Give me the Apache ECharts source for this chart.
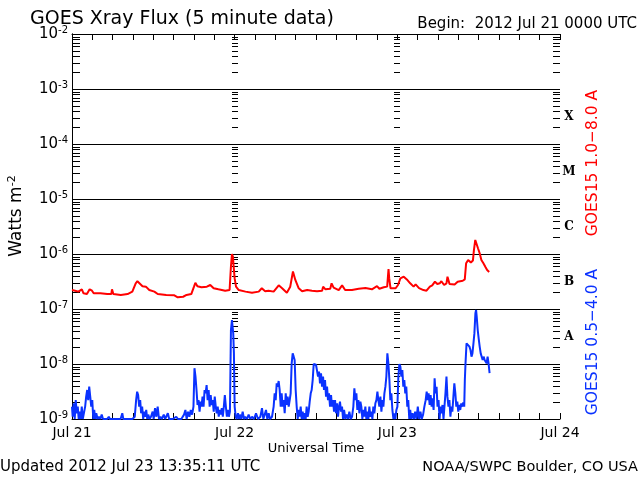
<!DOCTYPE html>
<html><head><meta charset="utf-8">
<script src="https://cdn.jsdelivr.net/npm/echarts@6/dist/echarts.min.js"></script>
<style>html,body{margin:0;padding:0;background:#fff}#c{width:640px;height:480px}</style>
</head><body><div id="c"></div>
<script>
// ---- data (hours since 2012 Jul 21 00:00 UTC, flux W m^-2) ----
const dayLabels = ['Jul 21', 'Jul 22', 'Jul 23', 'Jul 24'];
const redPoints = [
[0.0,2.21e-7],[0.45,2.15e-7],[0.7,2.28e-7],[0.95,2.07e-7],[1.2,1.98e-7],[1.45,2.28e-7],[1.7,1.93e-7],[2.2,1.87e-7],
[2.6,2.28e-7],[2.95,2.15e-7],[3.2,1.93e-7],[4.2,1.93e-7],[5.2,1.87e-7],[5.4,1.80e-7],[5.8,1.87e-7],[5.9,2.28e-7],
[6.1,1.87e-7],[7.2,1.80e-7],[8.2,1.87e-7],[8.9,2.07e-7],[9.4,2.93e-7],[9.65,3.2e-7],[9.9,3.14e-7],[10.4,2.6e-7],
[10.9,2.55e-7],[11.4,2.21e-7],[12.15,2.07e-7],[12.65,1.87e-7],[13.9,1.8e-7],[15.1,1.77e-7],[15.6,1.63e-7],[16.4,1.67e-7],
[16.9,1.8e-7],[17.6,1.87e-7],[18.0,2.55e-7],[18.2,3.0e-7],[18.5,2.6e-7],[19.1,2.48e-7],[19.9,2.55e-7],[20.4,2.73e-7],
[20.9,2.38e-7],[21.6,2.28e-7],[22.6,2.15e-7],[23.25,2.21e-7],[23.45,5.9e-7],[23.6,1.0e-6],[23.75,8.9e-7],[23.85,5.9e-7],
[24.0,3.6e-7],[24.2,2.55e-7],[24.6,2.21e-7],[25.6,2.07e-7],[26.55,1.98e-7],[27.55,2.07e-7],[28.0,2.38e-7],[28.5,2.1e-7],
[29.0,2.15e-7],[29.75,2.07e-7],[30.5,2.69e-7],[31.0,2.38e-7],[31.7,1.98e-7],[32.2,2.55e-7],[32.6,4.8e-7],[32.65,4.45e-7],
[32.95,3.37e-7],[33.45,2.38e-7],[33.95,2.1e-7],[34.7,2.21e-7],[35.4,2.15e-7],[36.15,2.1e-7],[36.9,2.15e-7],[37.05,2.55e-7],
[37.4,2.28e-7],[38.1,2.33e-7],[38.3,2.93e-7],[38.6,2.45e-7],[39.35,2.21e-7],[39.85,2.69e-7],[40.3,2.21e-7],[41.3,2.21e-7],
[42.3,2.33e-7],[43.3,2.4e-7],[44.25,2.28e-7],[45.0,2.6e-7],[45.35,2.33e-7],[46.0,2.48e-7],[46.5,2.55e-7],[46.7,5.3e-7],
[46.8,3.6e-7],[47.0,2.38e-7],[47.75,2.38e-7],[48.1,2.73e-7],[48.45,3.6e-7],[48.95,3.87e-7],[49.4,3.45e-7],[49.9,2.93e-7],
[50.4,2.55e-7],[50.7,2.8e-7],[51.2,2.4e-7],[51.85,2.21e-7],[52.3,2.15e-7],[52.8,2.55e-7],[53.15,2.69e-7],[53.55,3.14e-7],
[53.9,2.85e-7],[54.25,2.93e-7],[54.5,3.2e-7],[54.9,2.73e-7],[55.25,2.93e-7],[55.4,3.87e-7],[55.7,2.85e-7],[56.45,2.8e-7],
[56.9,3.14e-7],[57.65,3.26e-7],[57.95,3.45e-7],[58.15,6.8e-7],[58.45,7.8e-7],[58.85,7.0e-7],[59.15,7.6e-7],[59.3,1.18e-6],
[59.5,1.8e-6],[59.7,1.68e-6],[59.9,1.27e-6],[60.15,1.03e-6],[60.4,7.8e-7],[60.7,6.8e-7],[61.0,5.8e-7],[61.25,5.1e-7],
[61.55,4.7e-7]
];
const bluePoints = [
[0.0,1.68e-9],[0.10,1.1e-9],[0.25,1.93e-9],[0.40,1e-9],[0.55,2.2e-9],[0.70,1.27e-9],[0.85,1.68e-9],[0.99,1e-9],
[1.14,1.36e-9],[1.29,1e-9],[1.44,1.68e-9],[1.59,1e-9],[1.79,1e-9],[1.94,1.68e-9],[2.09,2.55e-9],[2.24,3.37e-9],
[2.39,2.2e-9],[2.54,3.87e-9],[2.69,3.95e-9],[2.84,1.68e-9],[2.99,2.2e-9],[3.14,1e-9],[3.28,1.46e-9],[3.43,1e-9],
[3.58,1.27e-9],[3.78,1e-9],[3.98,1.1e-9],[4.18,1e-9],[4.38,1.2e-9],[4.58,1e-9],[5.18,1e-9],[5.43,1.1e-9],
[5.58,1e-9],[6.17,1e-9],[6.67,1e-9],[7.17,1e-9],[7.42,1.27e-9],[7.57,1e-9],[8.16,1e-9],[8.91,1e-9],
[9.26,1.1e-9],[9.46,2.2e-9],[9.61,3.14e-9],[9.76,2.73e-9],[9.91,1.68e-9],[10.06,2.2e-9],[10.20,1.27e-9],[10.35,1.68e-9],
[10.50,1e-9],[10.65,1.36e-9],[10.80,1.1e-9],[10.95,1.46e-9],[11.10,1e-9],[11.25,1.2e-9],[11.45,1e-9],[11.65,1.1e-9],
[11.90,1.36e-9],[12.05,1e-9],[12.25,1.57e-9],[12.45,1.1e-9],[12.64,1.68e-9],[12.84,1e-9],[13.04,1.1e-9],[13.24,1e-9],
[13.54,1.2e-9],[13.74,1e-9],[14.14,1.27e-9],[14.34,1e-9],[14.88,1e-9],[15.38,1.1e-9],[15.63,1e-9],[16.13,1e-9],
[16.53,1.2e-9],[16.73,1.46e-9],[16.92,1e-9],[17.12,1.36e-9],[17.32,1.1e-9],[17.52,1.46e-9],[17.72,1.2e-9],[17.92,1.68e-9],
[18.07,8.4e-9],[18.22,5.9e-9],[18.37,3.37e-9],[18.52,1.8e-9],[18.67,2.2e-9],[18.82,1.36e-9],[18.97,2.07e-9],[19.11,1.68e-9],
[19.26,2.55e-9],[19.41,1.68e-9],[19.56,3.37e-9],[19.71,2.93e-9],[19.86,4.15e-9],[20.01,2.2e-9],[20.16,3.37e-9],[20.31,1.68e-9],
[20.46,2.73e-9],[20.61,1.8e-9],[20.76,2.2e-9],[20.91,1.36e-9],[21.06,2.55e-9],[21.21,1.68e-9],[21.35,1.27e-9],[21.50,1.68e-9],
[21.65,1.1e-9],[21.80,1.46e-9],[21.95,1.2e-9],[22.10,1.57e-9],[22.25,1.1e-9],[22.40,1.68e-9],[22.55,2.73e-9],[22.70,1.68e-9],
[22.85,1.1e-9],[23.00,1.46e-9],[23.15,1.1e-9],[23.30,1.36e-9],[23.45,4.15e-8],[23.60,6.3e-8],[23.70,6.8e-8],[23.79,3.6e-8],
[23.89,1.56e-8],[24.0,1.68e-9],[24.15,1.1e-9],[24.29,1e-9],[24.49,1.27e-9],[24.64,1e-9],[24.78,1.2e-9],[24.98,1e-9],
[25.18,1.36e-9],[25.38,1e-9],[25.57,1.1e-9],[25.82,1e-9],[26.06,1.2e-9],[26.31,1e-9],[26.56,1.1e-9],[26.85,1e-9],
[27.15,1.27e-9],[27.44,1e-9],[27.79,1.1e-9],[28.03,1.57e-9],[28.23,1e-9],[28.43,1.2e-9],[28.62,1.46e-9],[28.82,1e-9],
[29.02,1.27e-9],[29.21,1e-9],[29.51,1.1e-9],[29.75,1.68e-9],[29.90,2.93e-9],[30.05,2.2e-9],[30.20,4.45e-9],[30.34,3.87e-9],
[30.49,4.9e-9],[30.64,3.37e-9],[30.79,1.68e-9],[30.93,2.93e-9],[31.08,1.68e-9],[31.23,2.2e-9],[31.38,1.27e-9],[31.53,2.93e-9],
[31.67,1.8e-9],[31.82,2.55e-9],[31.97,1.68e-9],[32.12,2.2e-9],[32.26,2.93e-9],[32.41,1.03e-8],[32.56,1.56e-8],[32.71,1.36e-8],
[32.85,1.18e-8],[33.00,3.37e-9],[33.15,1.68e-9],[33.30,1e-9],[33.44,1.46e-9],[33.59,1.1e-9],[33.74,1.68e-9],[33.89,1e-9],
[34.03,1.36e-9],[34.18,1e-9],[34.33,1.27e-9],[34.48,1e-9],[34.62,1.68e-9],[34.77,1.1e-9],[34.92,1.36e-9],[35.07,2.07e-9],
[35.22,2.93e-9],[35.36,3.37e-9],[35.51,5.1e-9],[35.66,1e-8],[35.81,1e-8],[36.00,9.7e-9],[36.15,9e-9],[36.30,5.9e-9],
[36.45,7.3e-9],[36.59,4.45e-9],[36.74,6.8e-9],[36.89,3.87e-9],[37.04,5.9e-9],[37.18,3.37e-9],[37.33,5.1e-9],[37.48,2.55e-9],
[37.63,3.87e-9],[37.77,2.2e-9],[37.92,2.93e-9],[38.07,1.68e-9],[38.22,2.73e-9],[38.36,1.68e-9],[38.51,2.2e-9],[38.66,1.36e-9],
[38.81,2.2e-9],[38.95,1.27e-9],[39.10,1.93e-9],[39.25,1.1e-9],[39.40,1.68e-9],[39.54,2.07e-9],[39.69,1.36e-9],[39.84,1.68e-9],
[39.99,1e-9],[40.14,1.46e-9],[40.33,1e-9],[40.53,1.2e-9],[40.73,1e-9],[40.92,1.36e-9],[41.12,1e-9],[41.32,1.1e-9],
[41.51,1.68e-9],[41.66,3.6e-9],[41.81,2.2e-9],[41.96,2.93e-9],[42.10,1.46e-9],[42.25,2.2e-9],[42.40,1.27e-9],[42.55,2.07e-9],
[42.69,1.68e-9],[42.84,1e-9],[42.99,1.46e-9],[43.14,1.1e-9],[43.28,1.68e-9],[43.43,1e-9],[43.58,1.36e-9],[43.73,1e-9],
[43.87,1.68e-9],[44.02,1.1e-9],[44.17,1.36e-9],[44.32,1e-9],[44.46,1.68e-9],[44.61,1.27e-9],[44.76,1.93e-9],[44.91,2.2e-9],
[45.06,3.14e-9],[45.20,2.2e-9],[45.35,1.68e-9],[45.50,2.55e-9],[45.65,1.36e-9],[45.79,2.2e-9],[45.94,1.68e-9],[46.09,2.93e-9],
[46.24,3.87e-9],[46.38,5.9e-9],[46.53,1.56e-8],[46.68,1.03e-8],[46.83,5.1e-9],[46.97,2.2e-9],[47.12,2.93e-9],[47.27,1.46e-9],
[47.42,1e-9],[47.56,1.27e-9],[47.71,1e-9],[47.86,1.46e-9],[48.01,1.68e-9],[48.15,5.9e-9],[48.30,1e-8],[48.45,9e-9],
[48.59,5.9e-9],[48.74,7.8e-9],[48.88,3.87e-9],[49.03,5.1e-9],[49.17,2.93e-9],[49.32,3.87e-9],[49.47,1.68e-9],[49.61,2.2e-9],
[49.76,1e-9],[49.90,1.46e-9],[50.05,1e-9],[50.24,1.27e-9],[50.44,1e-9],[50.63,1.36e-9],[50.83,1e-9],[51.02,1.68e-9],
[51.21,1e-9],[51.41,1.36e-9],[51.60,1e-9],[51.80,1.2e-9],[51.99,1.68e-9],[52.18,2.2e-9],[52.33,3.14e-9],[52.48,2.2e-9],
[52.62,2.93e-9],[52.77,1.8e-9],[52.91,2.73e-9],[53.06,1.68e-9],[53.20,2.38e-9],[53.35,1.46e-9],[53.50,5.5e-9],[53.64,2.93e-9],
[53.79,3.87e-9],[53.93,1.68e-9],[54.08,2.2e-9],[54.23,1e-9],[54.37,1.68e-9],[54.52,1.27e-9],[54.66,1.8e-9],[54.81,1e-9],
[54.95,1.68e-9],[55.10,2.93e-9],[55.25,5.9e-9],[55.39,2.55e-9],[55.54,1.68e-9],[55.68,2.2e-9],[55.83,1.1e-9],[55.97,1.68e-9],
[56.12,1.36e-9],[56.27,2.55e-9],[56.41,4.45e-9],[56.56,2.93e-9],[56.70,1.68e-9],[56.85,2.07e-9],[56.99,1.36e-9],[57.14,1.8e-9],
[57.28,1.46e-9],[57.43,1.93e-9],[57.58,1.68e-9],[57.72,2.0e-9],[57.87,1.68e-9],[57.96,5.1e-9],[58.06,1.03e-8],[58.21,2.38e-8],
[58.35,2.55e-8],[58.50,2.22e-8],[58.64,2.07e-8],[58.79,1.8e-8],[58.94,1.36e-8],[59.08,1.56e-8],[59.23,2.38e-8],[59.37,3.6e-8],
[59.52,8.4e-8],[59.62,9.6e-8],[59.71,7.3e-8],[59.86,4.15e-8],[60.00,2.93e-8],[60.15,2.07e-8],[60.30,1.56e-8],[60.44,1.46e-8],
[60.59,1.18e-8],[60.73,1.36e-8],[60.88,1.18e-8],[61.02,1.1e-8],[61.17,1.03e-8],[61.32,1.36e-8],[61.46,1.03e-8],[61.61,6.8e-9]
];
const decadeExponents = [-9, -8, -7, -6, -5, -4, -3];
const minorMultipliers = [2, 3, 4, 5, 6, 7, 8, 9];
const ladderHours = [0, 24, 48, 72];
const flareClasses = ['A', 'B', 'C', 'M', 'X'];
const flareClassExponents = [-8, -7, -6, -5, -4];

// ---- build ----
const FONT = '"DejaVu Sans", sans-serif';
const ladderData = [];
ladderHours.forEach((h, i) => {
  decadeExponents.forEach(e => {
    minorMultipliers.forEach(m => {
      ladderData.push([h, m * Math.pow(10, e), i === 0 ? 0 : (i === ladderHours.length - 1 ? 2 : 1)]);
    });
  });
});

const chart = echarts.init(document.getElementById('c'), null, {renderer: 'canvas'});
const xCommon = {
  type: 'value', min: 0, max: 72, interval: 3,
  axisLine: {show: true, lineStyle: {color: '#000', width: 1}},
  axisTick: {show: true, inside: true, length: 6, lineStyle: {color: '#000', width: 1}},
  splitLine: {show: false}
};
const option = {
  animation: false,
  backgroundColor: '#fff',
  grid: {left: 72, right: 80, top: 34, bottom: 61, containLabel: false},
  xAxis: [
    Object.assign({}, xCommon, {
      position: 'bottom',
      axisLabel: {
        show: true, color: '#000', fontSize: 14, fontFamily: FONT, margin: 7,
        showMinLabel: true, showMaxLabel: true,
        formatter: v => (v % 24 === 0 ? dayLabels[v / 24] : '')
      }
    }),
    Object.assign({}, xCommon, {position: 'top', axisLabel: {show: false}})
  ],
  yAxis: [
    {
      type: 'log', logBase: 10, min: 1e-9, max: 1e-2, splitNumber: 7, position: 'left',
      axisLine: {show: true, lineStyle: {color: '#000', width: 1}},
      axisTick: {show: false},
      splitLine: {show: true, lineStyle: {color: '#000', width: 1, type: 'solid'}},
      axisLabel: {
        show: true, margin: 4,
        formatter: v => '{a|10}{b|' + Math.round(Math.log10(v)) + '}',
        rich: {
          a: {fontSize: 15, fontFamily: FONT, color: '#000', lineHeight: 18},
          b: {fontSize: 10, fontFamily: FONT, color: '#000', verticalAlign: 'top', lineHeight: 10}
        }
      }
    },
    {
      type: 'log', logBase: 10, min: 1e-9, max: 1e-2, splitNumber: 7, position: 'right',
      axisLine: {show: true, lineStyle: {color: '#000', width: 1}},
      axisTick: {show: false}, axisLabel: {show: false}, splitLine: {show: false}
    }
  ],
  series: [
    {
      type: 'custom', name: 'ladder', xAxisIndex: 0, yAxisIndex: 0, silent: true, z: 3,
      data: ladderData,
      renderItem: (params, api) => {
        const p = api.coord([api.value(0), api.value(1)]);
        const side = api.value(2);
        const y = Math.round(p[1]) + 0.5;
        const x = Math.round(p[0]);
        let x1, x2;
        if (side === 0) { x1 = x; x2 = x + 8; }
        else if (side === 2) { x1 = x - 7; x2 = x; }
        else { x1 = x - 3; x2 = x + 3; }
        return {type: 'line', shape: {x1: x1, y1: y, x2: x2, y2: y}, style: {stroke: '#000', lineWidth: 1}};
      }
    },
    {
      type: 'line', name: 'GOES15 1.0-8.0 A', data: redPoints, showSymbol: false, z: 4,
      lineStyle: {color: '#ff0000', width: 2}, itemStyle: {color: '#ff0000'}, clip: true
    },
    {
      type: 'line', name: 'GOES15 0.5-4.0 A', data: bluePoints, showSymbol: false, z: 4,
      lineStyle: {color: '#0a32ff', width: 2}, itemStyle: {color: '#0a32ff'}, clip: true
    }
  ],
  graphic: [
    {type: 'text', x: 30, y: 19, style: {text: 'GOES Xray Flux (5 minute data)', font: '19px ' + FONT, fill: '#000', verticalAlign: 'middle'}},
    {type: 'text', x: 637, y: 24, style: {text: 'Begin:  2012 Jul 21 0000 UTC', font: '15px ' + FONT, fill: '#000', align: 'right', verticalAlign: 'middle'}},
    {type: 'text', x: 316, y: 449, style: {text: 'Universal Time', font: '13px ' + FONT, fill: '#000', align: 'center', verticalAlign: 'middle'}},
    {type: 'text', x: 0, y: 467, style: {text: 'Updated 2012 Jul 23 13:35:11 UTC', font: '15px ' + FONT, fill: '#000', verticalAlign: 'middle'}},
    {type: 'text', x: 638, y: 467, style: {text: 'NOAA/SWPC Boulder, CO USA', font: '14.5px ' + FONT, fill: '#000', align: 'right', verticalAlign: 'middle'}},
    {type: 'text', x: 17, y: 216, rotation: Math.PI / 2, style: {
      text: '{a|Watts m}{b|-2}', align: 'center', verticalAlign: 'middle',
      rich: {a: {fontSize: 17, fontFamily: FONT, fill: '#000', lineHeight: 20}, b: {fontSize: 11, fontFamily: FONT, fill: '#000', verticalAlign: 'top', lineHeight: 11}}
    }},
    {type: 'text', x: 593, y: 163, rotation: Math.PI / 2, style: {text: 'GOES15 1.0\u22128.0 A', font: '15.5px ' + FONT, fill: '#ff0000', align: 'center', verticalAlign: 'middle'}},
    {type: 'text', x: 593, y: 342, rotation: Math.PI / 2, style: {text: 'GOES15 0.5\u22124.0 A', font: '15.5px ' + FONT, fill: '#0a32ff', align: 'center', verticalAlign: 'middle'}}
  ]
};
chart.setOption(option);

// flare class letters at mid-decade
const extra = flareClasses.map((c, i) => {
  const py = chart.convertToPixel({yAxisIndex: 0}, Math.pow(10, flareClassExponents[i] + 0.5));
  return {type: 'text', x: 569, y: py, style: {text: c, font: 'bold 12px "DejaVu Serif", serif', fill: '#000', align: 'center', verticalAlign: 'middle'}};
});
chart.setOption({graphic: option.graphic.concat(extra)});
</script>
</body></html>
